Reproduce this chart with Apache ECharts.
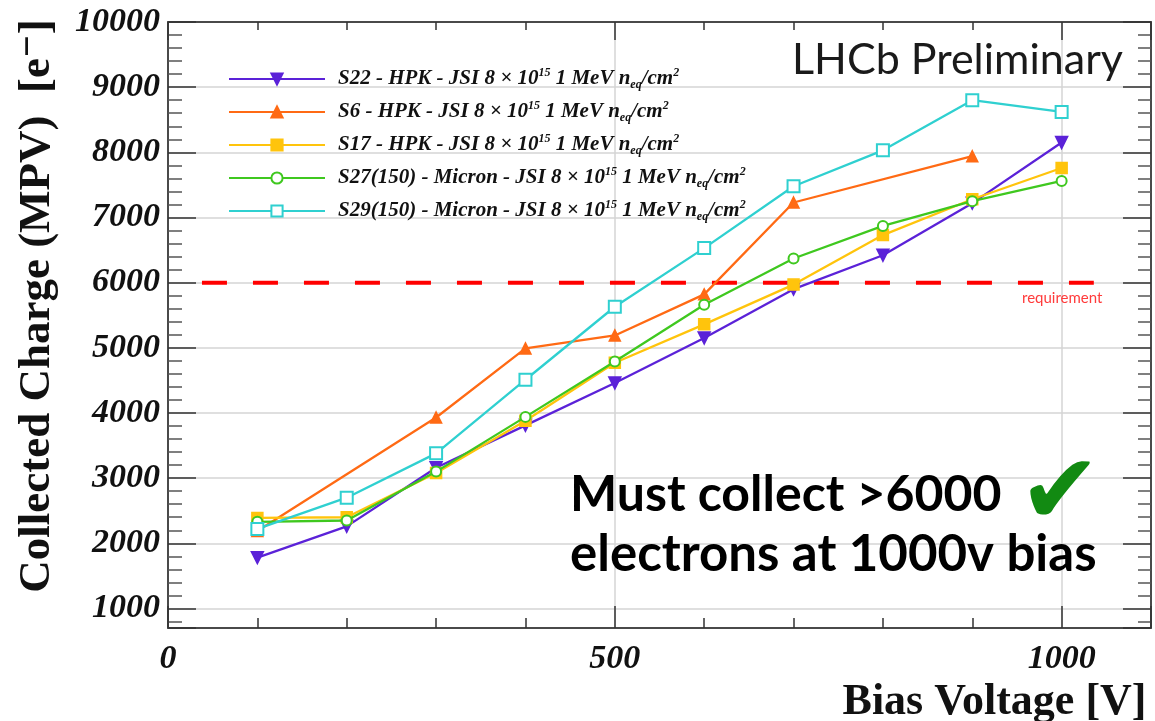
<!DOCTYPE html>
<html>
<head>
<meta charset="utf-8">
<script src="https://cdn.jsdelivr.net/npm/echarts@6/dist/echarts.min.js"></script>
<style>html,body{margin:0;padding:0;background:#fff;}#c{width:1155px;height:721px;}</style>
</head>
<body>
<div id="c"></div>
<script>
// ---- data ----
const voltages = [100, 200, 300, 400, 500, 600, 700, 800, 900, 1000];
const s22 = [1780, 2260, 3160, 3810, 4460, 5150, 5900, 6420, 7220, 8150];
const s6  = [2190, null, 3930, 4990, 5190, 5820, 7230, null, 7940, null];
const s17 = [2390, 2400, 3080, 3880, 4770, 5360, 5970, 6730, 7280, 7760];
const s27 = [2330, 2350, 3100, 3940, 4790, 5660, 6370, 6870, 7250, 7560];
const s29 = [2220, 2700, 3380, 4510, 5630, 6530, 7480, 8030, 8800, 8620];
const seriesNames = [
  'S22 - HPK - JSI 8 × 10^15 1 MeV n_eq/cm^2',
  'S6 - HPK - JSI 8 × 10^15 1 MeV n_eq/cm^2',
  'S17 - HPK - JSI 8 × 10^15 1 MeV n_eq/cm^2',
  'S27(150) - Micron - JSI 8 × 10^15 1 MeV n_eq/cm^2',
  'S29(150) - Micron - JSI 8 × 10^15 1 MeV n_eq/cm^2'
];
const legendPrefix = ['S22 - HPK - JSI', 'S6 - HPK - JSI', 'S17 - HPK - JSI', 'S27(150) - Micron - JSI', 'S29(150) - Micron - JSI'];
const requirementValue = 6000;
const requirementRange = [38, 1036];
const xLabelTicks = [0, 500, 1000];
const yRange = [700, 10000];
const xRange = [0, 1100];

// ---- build ----
const pair = arr => voltages.map((v, i) => [v, arr[i]]);
const serif = "'Liberation Serif', 'DejaVu Serif', serif";
const styles = [
  {color: '#5b22d8', symbol: 'triangle', rotate: 180, size: 12},
  {color: '#ff6a14', symbol: 'triangle', rotate: 0, size: 11},
  {color: '#ffc40c', symbol: 'rect', rotate: 0, size: 11},
  {color: '#3fc81f', symbol: 'emptyCircle', rotate: 0, size: 10},
  {color: '#2fd0d0', symbol: 'emptyRect', rotate: 0, size: 12}
];
const datasets = [s22, s6, s17, s27, s29];
const series = datasets.map((d, i) => ({
  name: seriesNames[i], type: 'line', xAxisIndex: 0, yAxisIndex: 0,
  data: pair(d), connectNulls: true,
  symbol: styles[i].symbol, symbolSize: styles[i].size, symbolRotate: styles[i].rotate,
  itemStyle: {color: styles[i].color, borderColor: styles[i].color, borderWidth: 1.5},
  lineStyle: {color: styles[i].color, width: 2.3},
  z: 5 + i
}));
series.push({
  name: 'requirement', type: 'line', symbol: 'none',
  data: requirementRange.map(x => [x, requirementValue]),
  lineStyle: {color: '#ff0000', width: 4, type: [25, 26]}, z: 3, silent: true
});

const legendRich = {
  b: {fontFamily: serif, fontStyle: 'italic', fontWeight: 'bold', fontSize: 21, color: '#111', lineHeight: 24},
  sup: {fontFamily: serif, fontStyle: 'italic', fontWeight: 'bold', fontSize: 12, color: '#111', verticalAlign: 'top', lineHeight: 24},
  sub: {fontFamily: serif, fontStyle: 'italic', fontWeight: 'bold', fontSize: 12, color: '#111', verticalAlign: 'bottom', lineHeight: 24}
};

const frameColor = '#4a4a4a';
const tickLabel = {fontFamily: serif, fontStyle: 'italic', fontWeight: 'bold', fontSize: 34, color: '#111'};
const frameLine = {show: true, onZero: false, lineStyle: {color: frameColor, width: 2}};

const option = {
  animation: false,
  backgroundColor: '#ffffff',
  grid: {left: 168, right: 4, top: 22, bottom: 93, show: false, containLabel: false, outerBoundsMode: 'none'},
  legend: {
    data: seriesNames, orient: 'vertical', left: 223, top: 62,
    itemWidth: 96, itemHeight: 14, itemGap: 9,
    textStyle: {padding: [0, 0, 0, 8], rich: legendRich},
    formatter: name => {
      const i = seriesNames.indexOf(name);
      return '{b|' + legendPrefix[i] + ' 8 × 10}{sup|15}{b| 1 MeV n}{sub|eq}{b|/cm}{sup|2}';
    }
  },
  xAxis: [
    {type: 'value', position: 'bottom', min: xRange[0], max: xRange[1], interval: 100,
     axisLine: frameLine,
     axisTick: {show: true, inside: true, length: 10, lineStyle: {color: '#333', width: 1.5}},
     axisLabel: Object.assign({margin: 14, formatter: v => xLabelTicks.includes(v) ? String(v) : ''}, tickLabel),
     splitLine: {show: false},
     name: 'Bias Voltage [V]', nameLocation: 'middle', nameGap: 45,
     nameTextStyle: {fontFamily: serif, fontWeight: 'bold', fontSize: 44, color: '#111', verticalAlign: 'top', padding: [0, 0, 0, 670]}
    },
    {type: 'value', position: 'bottom', min: xRange[0], max: xRange[1], interval: 500,
     axisLine: {show: false, onZero: false},
     axisTick: {show: true, inside: true, length: 22, lineStyle: {color: '#333', width: 1.5}},
     axisLabel: {show: false},
     splitLine: {show: true, lineStyle: {color: '#d4d4d4', width: 1.5}}
    },
    {type: 'value', position: 'top', min: xRange[0], max: xRange[1], interval: 100,
     axisLine: frameLine,
     axisTick: {show: true, inside: true, length: 8, lineStyle: {color: '#333', width: 1.5}},
     axisLabel: {show: false}, splitLine: {show: false}
    },
    {type: 'value', position: 'top', min: xRange[0], max: xRange[1], interval: 500,
     axisLine: {show: false, onZero: false},
     axisTick: {show: true, inside: true, length: 18, lineStyle: {color: '#333', width: 1.5}},
     axisLabel: {show: false}, splitLine: {show: false}
    }
  ],
  yAxis: [
    {type: 'value', position: 'left', min: yRange[0], max: yRange[1], splitNumber: 9, minInterval: 1000, maxInterval: 1000,
     axisLine: frameLine,
     axisTick: {show: true, inside: true, length: 28, lineStyle: {color: '#333', width: 1.5}},
     minorTick: {show: true, splitNumber: 5, length: 14, lineStyle: {color: '#555', width: 1.5}},
     axisLabel: Object.assign({margin: 8, formatter: v => v % 1000 === 0 ? String(v) : ''}, tickLabel),
     splitLine: {show: true, lineStyle: {color: '#d4d4d4', width: 1.5}},
     name: 'Collected Charge (MPV)  [e\u207B]', nameLocation: 'middle', nameGap: 108, nameRotate: 90,
     nameTextStyle: {fontFamily: serif, fontWeight: 'bold', fontSize: 45, color: '#111', padding: [0, 0, 0, 38]}
    },
    {type: 'value', position: 'right', min: yRange[0], max: yRange[1], splitNumber: 9, minInterval: 1000, maxInterval: 1000,
     axisLine: frameLine,
     axisTick: {show: true, inside: true, length: 28, lineStyle: {color: '#333', width: 1.5}},
     minorTick: {show: true, splitNumber: 5, length: 13, lineStyle: {color: '#555', width: 1.5}},
     axisLabel: {show: false}, splitLine: {show: false}
    }
  ],
  graphic: [
    {type: 'text', x: 792, y: 60, z: 20,
     style: {text: 'LHCb Preliminary', font: "43px Lato, 'Open Sans', sans-serif", fill: '#1a1a1a', align: 'left', verticalAlign: 'middle'}},
    {type: 'text', x: 570, y: 495, z: 20,
     style: {text: 'Must collect >6000', font: "bold 50px Lato, 'Open Sans', sans-serif", fill: '#000', align: 'left', verticalAlign: 'middle'}},
    {type: 'text', x: 570, y: 555, z: 20,
     style: {text: 'electrons at 1000v bias', font: "bold 51px Lato, 'Open Sans', sans-serif", fill: '#000', align: 'left', verticalAlign: 'middle'}},
    {type: 'text', x: 1060, y: 498, z: 20,
     style: {text: '\u2714', font: "98px 'DejaVu Sans', sans-serif", fill: '#128a12', align: 'center', verticalAlign: 'middle'}},
    {type: 'text', x: 1022, y: 298, z: 20,
     style: {text: 'requirement', font: "15px Lato, 'Open Sans', sans-serif", fill: '#ff3b3b', align: 'left', verticalAlign: 'middle'}}
  ],
  series: series
};
const chart = echarts.init(document.getElementById('c'));
chart.setOption(option);
</script>
</body>
</html>
